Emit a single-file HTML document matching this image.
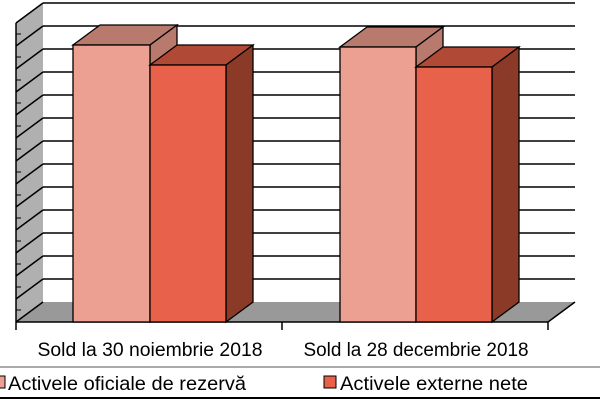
<!DOCTYPE html><html><head><style>body{margin:0;background:#fff}svg{display:block}text{font-family:"Liberation Sans",sans-serif}</style></head><body>
<svg width="600" height="400" viewBox="0 0 600 400">
<polygon points="16,23 43,3 43,302 16,322" fill="#b0b0b0"/>
<polygon points="16,322 43,302 575,302 548,322" fill="#999"/>
<g stroke="#000" stroke-width="1.5" fill="none">
<path d="M43,3H575M43,26H575M43,49H575M43,72H575M43,95H575M43,118H575M43,141H575M43,164H575M43,187H575M43,210H575M43,233H575M43,256H575M43,279H575"/>
<path d="M16,23L43,3M16,46L43,26M16,69L43,49M16,92L43,72M16,115L43,95M16,138L43,118M16,161L43,141M16,184L43,164M16,207L43,187M16,230L43,210M16,253L43,233M16,276L43,256M16,299L43,279M16,322L43,302"/>
<path d="M16,23V322H548L575,302M16,322V330M282,322V330M548,322V330"/>
</g>
<g stroke="#000" stroke-width="1" fill="none"><path d="M16,34h5M16,57h5M16,80h5M16,103h5M16,126h5M16,149h5M16,172h5M16,195h5M16,218h5M16,241h5M16,264h5M16,287h5M16,310h5"/></g>
<g stroke="#000" stroke-width="1.3">
<polygon points="73,45 100,25 177,25 150,45" fill="#b87a6c"/>
<polygon points="150,45 177,25 177,302 150,322" fill="#b87a6c"/>
<rect x="73" y="45" width="77" height="277" fill="#eba092"/>
<polygon points="150,65 177,45 253,45 226,65" fill="#b04a36"/>
<polygon points="226,65 253,45 253,302 226,322" fill="#8b3a28"/>
<rect x="150" y="65" width="76" height="257" fill="#e8614a"/>
<polygon points="340,47 367,27 443,27 416,47" fill="#b87a6c"/>
<polygon points="416,47 443,27 443,302 416,322" fill="#b87a6c"/>
<rect x="340" y="47" width="76" height="275" fill="#eba092"/>
<polygon points="416,67 443,47 519,47 492,67" fill="#b04a36"/>
<polygon points="492,67 519,47 519,302 492,322" fill="#8b3a28"/>
<rect x="416" y="67" width="76" height="255" fill="#e8614a"/>
</g>
<text x="150" y="356" font-size="19" text-anchor="middle" textLength="225" lengthAdjust="spacingAndGlyphs">Sold la 30 noiembrie 2018</text>
<text x="416" y="356" font-size="19" text-anchor="middle" textLength="225" lengthAdjust="spacingAndGlyphs">Sold la 28 decembrie 2018</text>
<line x1="0" y1="367" x2="600" y2="367" stroke="#555" stroke-width="1"/>
<line x1="0" y1="398" x2="600" y2="398" stroke="#000" stroke-width="2"/>
<rect x="-5" y="376" width="10" height="12" fill="#eba092" stroke="#000"/>
<text x="8" y="390" font-size="19" textLength="238" lengthAdjust="spacingAndGlyphs">Activele oficiale de rezervă</text>
<rect x="324" y="376" width="12" height="12" fill="#e8614a" stroke="#000"/>
<text x="340" y="390" font-size="19" textLength="188" lengthAdjust="spacingAndGlyphs">Activele externe nete</text>
</svg></body></html>
